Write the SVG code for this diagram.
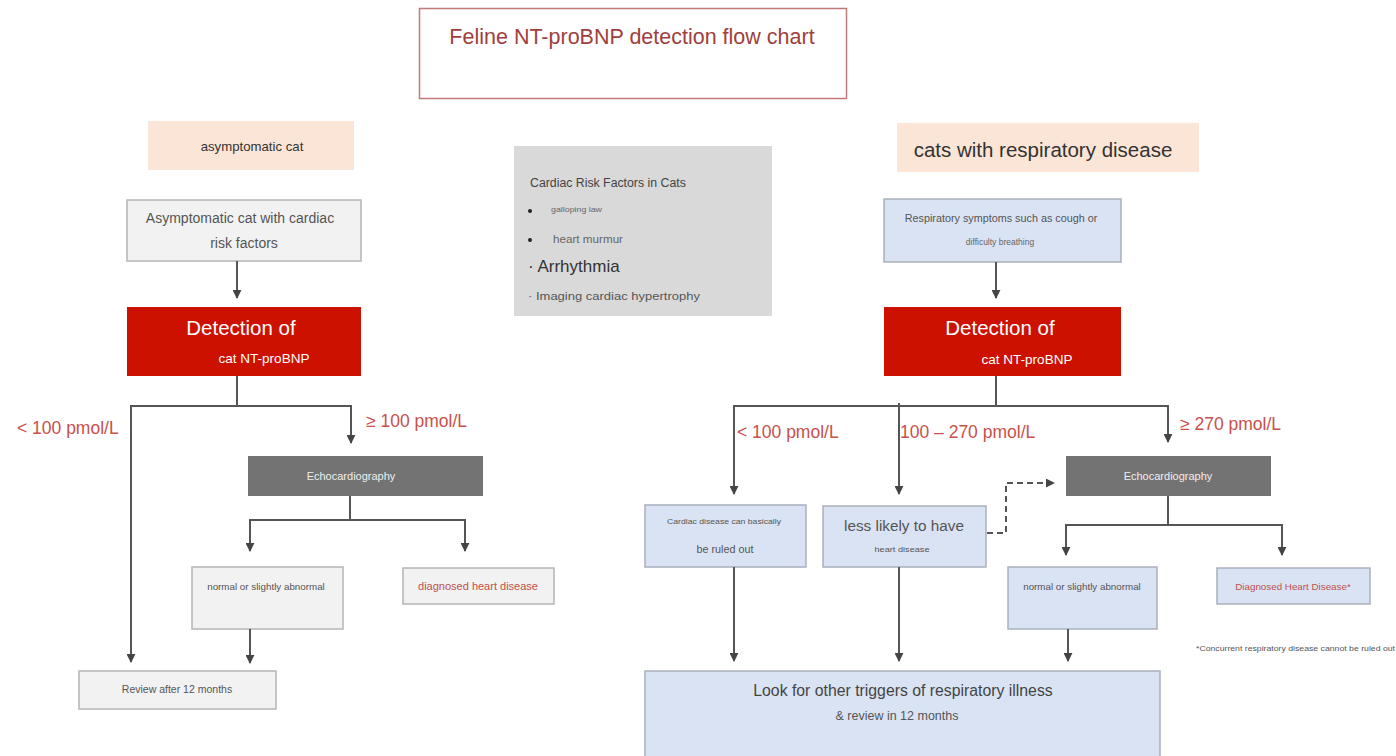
<svg xmlns="http://www.w3.org/2000/svg" width="1396" height="756" viewBox="0 0 1396 756">
<defs>
<marker id="ah" viewBox="0 0 10 10" refX="9" refY="5" markerWidth="4.5" markerHeight="4.5" orient="auto"><path d="M0,0 L10,5 L0,10 z" fill="#444"/></marker>
<style>
text{font-family:"Liberation Sans",Arial,sans-serif}
.ln{fill:none;stroke:#555;stroke-width:2}
.dash{fill:none;stroke:#555;stroke-width:2;stroke-dasharray:6,4}
.peach{fill:#fbe5d6}
.grey{fill:#f2f2f2;stroke:#b5b5b5;stroke-width:1.5}
.blue{fill:#dae3f3;stroke:#a9b0bc;stroke-width:1.5}
.red{fill:#cc1100}
.dark{fill:#737373}
.lab{fill:#c9504a;font-size:17.5px}
.wt{fill:#fff}
.gt{fill:#555}
</style>
</defs>
<rect width="1396" height="756" fill="#fff"/>

<g id="title">
<rect x="419.5" y="8.5" width="427" height="90" fill="#fff" stroke="#c07a78" stroke-width="1.5"/>
<text x="632" y="44" text-anchor="middle" font-size="21.5" fill="#a0403d">Feline NT-proBNP detection flow chart</text>
</g>

<g id="asym">
<rect class="peach" x="148" y="121" width="206" height="49"/>
<text x="252" y="151" text-anchor="middle" font-size="13.2" fill="#333">asymptomatic cat</text>
</g>

<g id="asymRisk">
<rect class="grey" x="127" y="200" width="234" height="61"/>
<text x="240" y="223" text-anchor="middle" font-size="14" class="gt">Asymptomatic cat with cardiac</text>
<text x="244" y="248" text-anchor="middle" font-size="14" class="gt">risk factors</text>
</g>

<g id="detectL">
<rect class="red" x="127" y="307" width="234" height="69"/>
<text x="241" y="335" text-anchor="middle" font-size="20.5" class="wt">Detection of</text>
<text x="264" y="363" text-anchor="middle" font-size="13.5" class="wt">cat NT-proBNP</text>
</g>

<g id="risk">
<rect x="514" y="146" width="258" height="170" fill="#d9d9d9"/>
<text x="530" y="187" font-size="12.3" fill="#444">Cardiac Risk Factors in Cats</text>
<circle cx="530" cy="211" r="2" fill="#222"/>
<text x="551" y="212" font-size="7.5" fill="#666" textLength="51" lengthAdjust="spacingAndGlyphs">galloping law</text>
<circle cx="530" cy="240" r="2" fill="#222"/>
<text x="553" y="243" font-size="10" fill="#666" textLength="70" lengthAdjust="spacingAndGlyphs">heart murmur</text>
<text x="528" y="272" font-size="17" fill="#333">· Arrhythmia</text>
<text x="528" y="300" font-size="10" fill="#555" textLength="172" lengthAdjust="spacingAndGlyphs">· Imaging cardiac hypertrophy</text>
</g>

<g id="echoL">
<rect class="dark" x="248" y="456" width="235" height="40"/>
<text x="351" y="480" text-anchor="middle" font-size="11" fill="#eee">Echocardiography</text>
</g>

<g id="normalL">
<rect class="grey" x="192" y="567" width="151" height="62"/>
<text x="266" y="590" text-anchor="middle" font-size="9.8" class="gt">normal or slightly abnormal</text>
</g>

<g id="diagL">
<rect class="grey" x="403" y="568" width="151" height="36"/>
<text x="478" y="590" text-anchor="middle" font-size="11" fill="#c0504d">diagnosed heart disease</text>
</g>

<g id="reviewL">
<rect class="grey" x="79" y="671" width="197" height="38"/>
<text x="177" y="693" text-anchor="middle" font-size="10.5" class="gt">Review after 12 months</text>
</g>

<g id="resp">
<rect class="peach" x="897" y="123" width="302" height="49"/>
<text x="1043" y="157" text-anchor="middle" font-size="20.5" fill="#333">cats with respiratory disease</text>
</g>

<g id="respSym">
<rect class="blue" x="884" y="199" width="237" height="63"/>
<text x="1001" y="222" text-anchor="middle" font-size="10.8" fill="#555">Respiratory symptoms such as cough or</text>
<text x="1000" y="245" text-anchor="middle" font-size="8.5" fill="#666">difficulty breathing</text>
</g>

<g id="detectR">
<rect class="red" x="884" y="307" width="237" height="69"/>
<text x="1000" y="335" text-anchor="middle" font-size="20.5" class="wt">Detection of</text>
<text x="1027" y="364" text-anchor="middle" font-size="13.5" class="wt">cat NT-proBNP</text>
</g>

<g id="ruled">
<rect class="blue" x="645" y="505" width="161" height="62"/>
<text x="724" y="524" text-anchor="middle" font-size="7.5" fill="#555" textLength="114" lengthAdjust="spacingAndGlyphs">Cardiac disease can basically</text>
<text x="725" y="553" text-anchor="middle" font-size="10.8" fill="#555">be ruled out</text>
</g>

<g id="less">
<rect class="blue" x="823" y="506" width="163" height="61"/>
<text x="904" y="531" text-anchor="middle" font-size="15.3" fill="#555">less likely to have</text>
<text x="902" y="552" text-anchor="middle" font-size="7" fill="#555" textLength="55" lengthAdjust="spacingAndGlyphs">heart disease</text>
</g>

<g id="echoR">
<rect class="dark" x="1066" y="456" width="205" height="40"/>
<text x="1168" y="480" text-anchor="middle" font-size="11" fill="#eee">Echocardiography</text>
</g>

<g id="normalR">
<rect class="blue" x="1008" y="567" width="149" height="62"/>
<text x="1082" y="590" text-anchor="middle" font-size="9.8" fill="#555">normal or slightly abnormal</text>
</g>

<g id="diagR">
<rect class="blue" x="1217" y="568" width="153" height="36"/>
<text x="1293" y="590" text-anchor="middle" font-size="9.8" fill="#c0504d">Diagnosed Heart Disease*</text>
</g>

<g id="foot">
<text x="1196" y="651" font-size="6.5" fill="#555" textLength="199" lengthAdjust="spacingAndGlyphs">*Concurrent respiratory disease cannot be ruled out</text>
</g>

<g id="lookfor">
<rect class="blue" x="645" y="671" width="515" height="90"/>
<text x="903" y="696" text-anchor="middle" font-size="15.8" fill="#444">Look for other triggers of respiratory illness</text>
<text x="897" y="720" text-anchor="middle" font-size="12.5" fill="#555">&amp; review in 12 months</text>
</g>

<g id="labels">
<text x="17" y="434" class="lab">&lt; 100 pmol/L</text>
<text x="366" y="427" class="lab">≥ 100 pmol/L</text>
<text x="737" y="438" class="lab">&lt; 100 pmol/L</text>
<text x="900" y="438" class="lab">100 – 270 pmol/L</text>
<text x="1180" y="430" class="lab">≥ 270 pmol/L</text>
</g>

<g id="connectors">
<path class="ln" d="M237,261 V298" marker-end="url(#ah)"/>
<path class="ln" d="M237,376 V406 M131,406 H351"/>
<path class="ln" d="M131,405 V662" marker-end="url(#ah)"/>
<path class="ln" d="M351,405 V443" marker-end="url(#ah)"/>
<path class="ln" d="M350,496 V520 M249,520 H466"/>
<path class="ln" d="M250,519 V551" marker-end="url(#ah)"/>
<path class="ln" d="M465,519 V551" marker-end="url(#ah)"/>
<path class="ln" d="M250,629 V663" marker-end="url(#ah)"/>

<path class="ln" d="M996,262 V298" marker-end="url(#ah)"/>
<path class="ln" d="M996,376 V406 M733,406 H1169"/>
<path class="ln" d="M734,405 V494" marker-end="url(#ah)"/>
<path class="ln" d="M899,403 V494" marker-end="url(#ah)"/>
<path class="ln" d="M1168,405 V442" marker-end="url(#ah)"/>
<path class="dash" d="M987,533 H1006 V483 H1054" marker-end="url(#ah)"/>
<path class="ln" d="M1168,496 V525 M1065,525 H1283"/>
<path class="ln" d="M1066,524 V555" marker-end="url(#ah)"/>
<path class="ln" d="M1282,524 V555" marker-end="url(#ah)"/>
<path class="ln" d="M734,567 V661" marker-end="url(#ah)"/>
<path class="ln" d="M899,567 V661" marker-end="url(#ah)"/>
<path class="ln" d="M1068,629 V661" marker-end="url(#ah)"/>
</g>
</svg>
